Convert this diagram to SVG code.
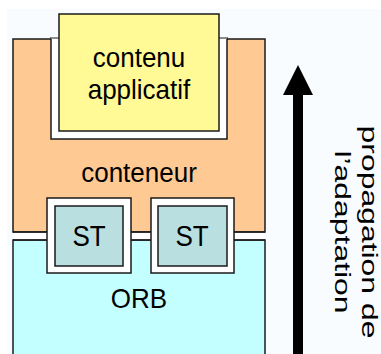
<svg xmlns="http://www.w3.org/2000/svg" width="381" height="354" viewBox="0 0 381 354">
<style>
.box{stroke:#1a1a1a;stroke-width:1.5}
.t{font-family:"Liberation Sans",Arial,sans-serif;font-size:26px;fill:#000;text-anchor:middle}
.v{font-family:"Liberation Sans",Arial,sans-serif;font-size:22px;fill:#000;text-anchor:middle}
</style>
<rect x="0" y="0" width="381" height="354" fill="#ffffff"/>
<rect x="7" y="9" width="374" height="345" fill="#f9fcfe"/>
<g id="orb">
<rect class="box" x="13" y="240" width="252" height="130" fill="#c4ffff"/>
<text class="t" transform="translate(139,308) scale(1,1.08)">ORB</text>
</g>
<g id="conteneur">
<rect class="box" x="13" y="39" width="252" height="193" fill="#ffc993"/>
<rect x="51" y="38" width="176" height="101" fill="#ffffff" stroke="#1a1a1a" stroke-width="1.5"/>
<line x1="51" y1="38" x2="227" y2="38" stroke="#a0a0a0" stroke-width="1.5"/>
<rect x="13.8" y="232.8" width="250.4" height="6.4" fill="#ffffff"/>
<line x1="13" y1="232" x2="265" y2="232" stroke="#1a1a1a" stroke-width="1.5"/>
<line x1="13" y1="240" x2="265" y2="240" stroke="#1a1a1a" stroke-width="1.5"/>
<text class="t" transform="translate(139,182) scale(1,1.08)">conteneur</text>
</g>
<g id="contenu">
<rect class="box" x="59" y="14" width="160" height="117" fill="#fffa96"/>
<text class="t" transform="translate(139,67) scale(1,1.08)">contenu</text>
<text class="t" transform="translate(139,99) scale(1,1.08)">applicatif</text>
</g>
<g id="st1">
<rect class="box" x="47" y="198" width="84" height="75" fill="#ffffff"/>
<rect class="box" x="55" y="206" width="68" height="60" fill="#b9dfe1"/>
<text class="t" transform="translate(89,246) scale(1,1.1)">ST</text>
</g>
<g id="st2">
<rect class="box" x="151" y="198" width="83" height="75" fill="#ffffff"/>
<rect class="box" x="158" y="206" width="69" height="60" fill="#b9dfe1"/>
<text class="t" transform="translate(192,246) scale(1,1.1)">ST</text>
</g>
<g id="connectors">
<rect x="293" y="94" width="10" height="270" fill="#000"/>
<polygon points="283,95 298,65 313,95" fill="#000"/>
</g>
<g id="label">
<g transform="translate(362,232) rotate(90) scale(1.45,1)">
<text class="v" x="0" y="0">propagation de</text>
<text class="v" x="0" y="27">l’adaptation</text>
</g>
</g>
</svg>
